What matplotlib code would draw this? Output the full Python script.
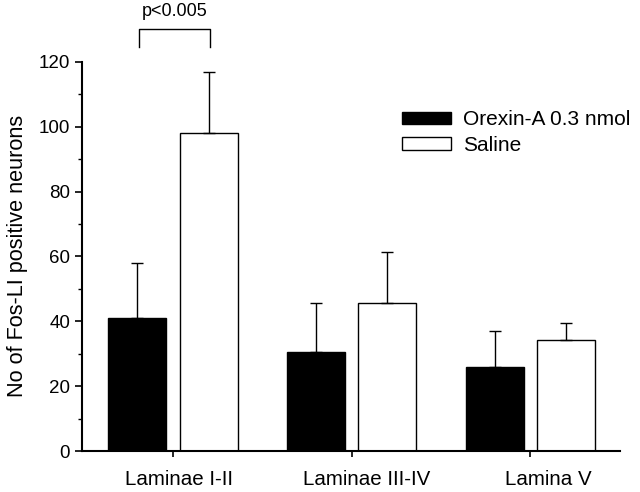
import matplotlib
matplotlib.use("Agg")
import matplotlib.pyplot as plt
import matplotlib.transforms as mtransforms
import numpy as np

categories = ["Laminae I-II", "Laminae III-IV", "Lamina V"]
orexin_mean = [41, 30.5, 26]
orexin_err = [17, 15, 11]
saline_mean = [98, 45.5, 34.3]
saline_err = [19, 16, 5.3]
series_names = ["Orexin-A 0.3 nmol", "Saline"]

plt.rcParams['font.family'] = ['Liberation Sans', 'DejaVu Sans']

fig = plt.figure(figsize=(6.4, 4.92), dpi=100)
ax = fig.add_axes([0.128, 0.0833, 0.841, 0.791])

x = np.arange(len(categories))
w = 0.325
off = 0.199
ekw = dict(elinewidth=1.0, capthick=1.0, ecolor='black')
ax.bar(x - off, orexin_mean, w, color='black', edgecolor='black', linewidth=1,
       yerr=[np.zeros(3), orexin_err], capsize=4.3, error_kw=ekw, label=series_names[0])
ax.bar(x + off, saline_mean, w, color='white', edgecolor='black', linewidth=1,
       yerr=[np.zeros(3), saline_err], capsize=4.3, error_kw=ekw, label=series_names[1])

ax.set_xlim(-0.51, 2.504)
ax.set_ylim(0, 120)
ax.set_yticks(np.arange(0, 121, 20))
ax.set_yticks(np.arange(10, 120, 20), minor=True)
ax.set_xticks(x)
ax.set_xticklabels(categories, fontsize=14.8)
ax.tick_params(axis='y', labelsize=13.5, length=5, width=1.2, direction='out')
ax.tick_params(axis='y', which='minor', length=3, width=1.0)
ax.tick_params(axis='x', length=4, width=1.2, pad=10)
for s in ['top', 'right']:
    ax.spines[s].set_visible(False)
for s in ['left', 'bottom']:
    ax.spines[s].set_linewidth(1.5)
ax.set_ylabel("No of Fos-LI positive neurons", fontsize=15.6, labelpad=8)

# labels in the original sit slightly right of their ticks
for lab, dx in zip(ax.get_xticklabels(), [6, 15, 18]):
    lab.set_transform(lab.get_transform() + mtransforms.ScaledTranslation(dx / 100, 0, fig.dpi_scale_trans))

# significance bracket
bx0, bx1 = x[0] - off + 0.01, x[0] + off + 0.01
ax.plot([bx0, bx0, bx1, bx1], [124.7, 130.2, 130.2, 124.7], color='black', lw=1.0, clip_on=False)
ax.text((bx0 + bx1) / 2, 133, "p<0.005", ha='center', va='bottom', fontsize=13)

leg = ax.legend(loc='upper left', bbox_to_anchor=(0.595, 0.875), frameon=False, fontsize=15,
                handlelength=2.35, handleheight=0.55, handletextpad=0.55, labelspacing=0.3,
                borderpad=0, borderaxespad=0)

fig.savefig("out.png", dpi=100)
